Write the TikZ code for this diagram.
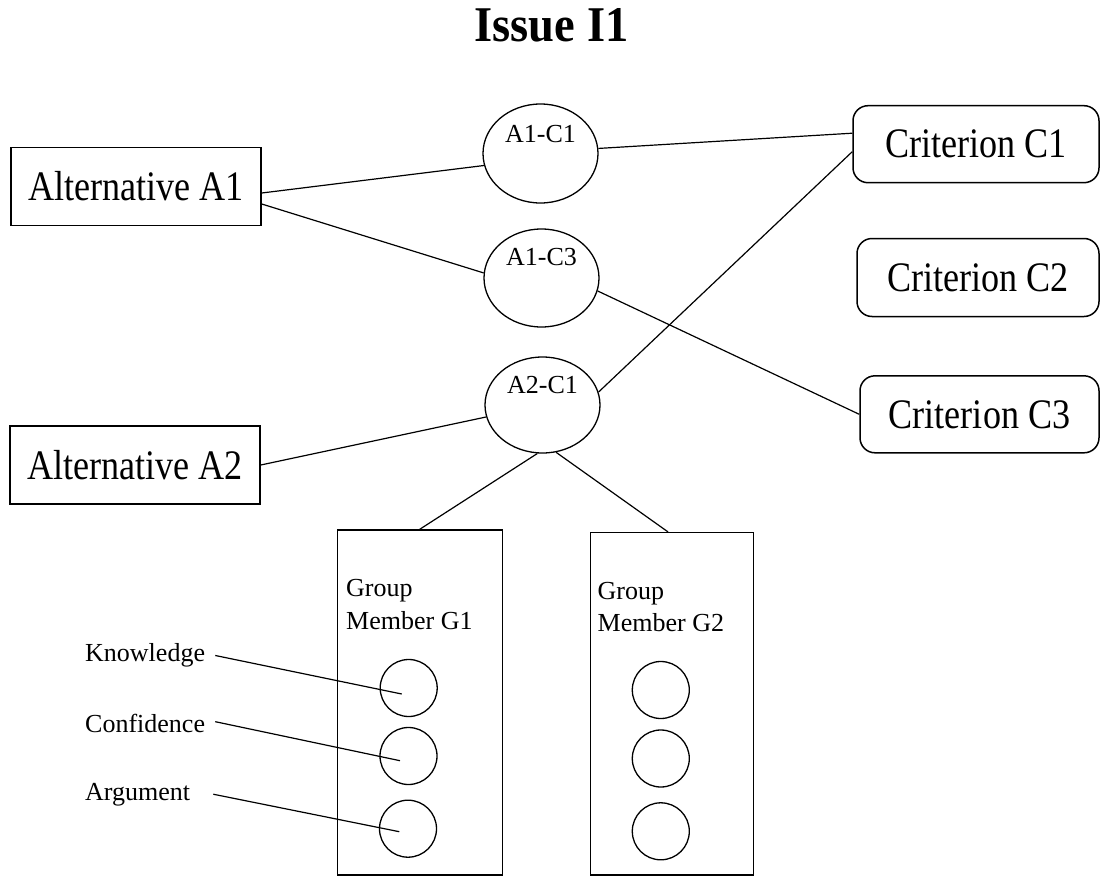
\documentclass[tikz,border=0pt]{standalone}
\usepackage{fontspec}
\setmainfont{Liberation Serif}
\newfontfamily\bigserif{Liberation Serif}[FakeStretch=0.86]
\newfontfamily\titleserif{Liberation Serif}[FakeStretch=0.93]
\usetikzlibrary{shapes.geometric}
\tikzset{
  conn/.style={line width=1.2pt},
  bigtext/.style={font=\bigserif\fontsize{42}{50}\selectfont},
  altbox/.style={draw, rectangle, line width=1.5pt, inner sep=0pt,
    minimum width=250pt, minimum height=78pt, bigtext},
  critbox/.style={draw, rectangle, rounded corners=15pt, line width=1.5pt,
    inner sep=0pt, minimum height=77pt, bigtext},
  pair/.style={draw, ellipse, line width=1.3pt, inner sep=0pt,
    minimum width=115pt, minimum height=98pt},
  pairtxt/.style={font=\fontsize{26}{30}\selectfont, anchor=base, inner sep=0pt},
  memberbox/.style={draw, rectangle, line width=1.5pt, inner sep=0pt},
  membertxt/.style={font=\fontsize{26}{32.3}\selectfont, align=left,
    anchor=north west, inner sep=0pt},
  attr/.style={draw, circle, line width=1.3pt, inner sep=0pt, minimum size=57pt},
  lbl/.style={font=\fontsize{26}{30}\selectfont, anchor=base west, inner sep=0pt}
}
\begin{document}
\begin{tikzpicture}[x=1pt, y=-1pt]
\useasboundingbox (0,0) rectangle (1101,878);

% title
\node[font=\titleserif\fontsize{50}{58}\selectfont\bfseries, anchor=base, inner sep=0pt]
  (title) at (551.5,41) {Issue I1};

% alternatives
\node[altbox] (A1) at (136,186.5) {Alternative A1};
\node[altbox] (A2) at (135,465) {Alternative A2};

% criteria
\node[critbox, minimum width=246pt] (C1) at (976,144.2) {Criterion C1};
\node[critbox, minimum width=242pt, minimum height=78pt] (C2) at (978,277.5) {Criterion C2};
\node[critbox, minimum width=239pt] (C3) at (979.5,414.3) {Criterion C3};

% pairs
\node[pair, minimum height=99pt] (P11) at (540.5,153.5) {};
\node[pair] (P13) at (541.5,278) {};
\node[pair, minimum height=96pt] (P21) at (542.5,405) {};
\node[pairtxt] (P11t) at ([yshift=11.5pt]P11.center) {A1-C1};
\node[pairtxt] (P13t) at ([yshift=13pt]P13.center) {A1-C3};
\node[pairtxt] (P21t) at ([yshift=12pt]P21.center) {A2-C1};

% group members
\node[memberbox, minimum width=165pt, minimum height=345pt] (G1) at (419.8,702.5) {};
\node[memberbox, minimum width=162.6pt, minimum height=342.3pt] (G2) at (672,703.8) {};
\node[membertxt] (G1t) at (346,579.3) {Group\\Member G1};
\node[membertxt] (G2t) at (597.5,582) {Group\\Member G2};

\node[attr] (K1) at (408.7,688) {};
\node[attr] (K2) at (408.5,756) {};
\node[attr] (K3) at (408,828.7) {};
\node[attr] (M1) at (660.8,690) {};
\node[attr] (M2) at (660.8,758.5) {};
\node[attr] (M3) at (660.8,831.3) {};

% attribute labels
\node[lbl] (know) at (85,661.7) {Knowledge};
\node[lbl] (conf) at (85,732.7) {Confidence};
\node[lbl] (argu) at (85,800) {Argument};

% connectors
\draw[conn] ([yshift=-6.5pt]A1.east) -- (P11.192);
\draw[conn] ([yshift=-17.5pt]A1.east) -- (P13.175);
\draw[conn] (A2.east) -- (P21.192);
\draw[conn] (P11.5) -- ([yshift=11pt]C1.west);
\draw[conn] (P21.13) -- ([yshift=-7.5pt]C1.west);
\draw[conn] (P13.347) -- (C3.west);
\draw[conn] (P21.264) -- (G1.north);
\draw[conn] (P21.286) -- ([xshift=-4pt]G2.north);

\draw[conn] ([xshift=10pt]know.east) -- ([shift={(-7pt,-6pt)}]K1.center);
\draw[conn] ([xshift=10pt,yshift=2pt]conf.east) -- ([shift={(-8.5pt,-4.7pt)}]K2.center);
\draw[conn] ([xshift=23pt]argu.east) -- ([shift={(-8.7pt,-3pt)}]K3.center);
\end{tikzpicture}
\end{document}
